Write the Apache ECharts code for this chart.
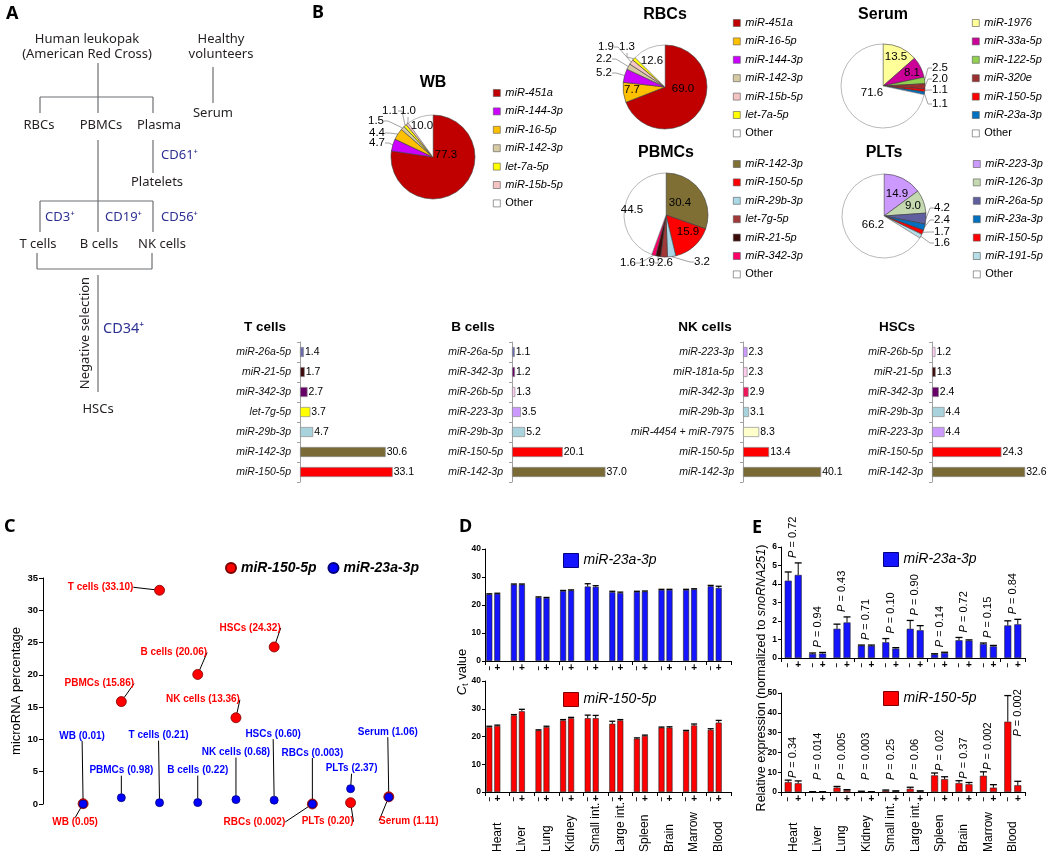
<!DOCTYPE html>
<html>
<head>
<meta charset="utf-8">
<title>miRNA composition figure</title>
<script src="https://cdn.jsdelivr.net/npm/echarts@6/dist/echarts.min.js"></script>
<style>
html,body{margin:0;padding:0;background:#fff;}
#chart{width:1050px;height:856px;}
</style>
</head>
<body>
<div id="chart"></div>
<script>
// ======================= DATA =======================
// Panel B – pie charts (percent of reads)
const wbNames = ['miR-451a','miR-144-3p','miR-16-5p','miR-142-3p','let-7a-5p','miR-15b-5p','Other'];
const wbValues = [77.3, 4.7, 4.4, 1.5, 1.1, 1.0, 10.0];
const rbcNames = ['miR-451a','miR-16-5p','miR-144-3p','miR-142-3p','miR-15b-5p','let-7a-5p','Other'];
const rbcValues = [69.0, 7.7, 5.2, 2.2, 1.9, 1.3, 12.6];
const serumNames = ['miR-1976','miR-33a-5p','miR-122-5p','miR-320e','miR-150-5p','miR-23a-3p','Other'];
const serumValues = [13.5, 8.1, 2.5, 2.0, 1.1, 1.1, 71.6];
const pbmcNames = ['miR-142-3p','miR-150-5p','miR-29b-3p','let-7g-5p','miR-21-5p','miR-342-3p','Other'];
const pbmcValues = [30.4, 15.9, 3.2, 2.6, 1.9, 1.6, 44.5];
const pltNames = ['miR-223-3p','miR-126-3p','miR-26a-5p','miR-23a-3p','miR-150-5p','miR-191-5p','Other'];
const pltValues = [14.9, 9.0, 4.2, 2.4, 1.7, 1.6, 66.2];

// Panel B – horizontal bars
const tCellNames = ['miR-26a-5p','miR-21-5p','miR-342-3p','let-7g-5p','miR-29b-3p','miR-142-3p','miR-150-5p'];
const tCellValues = [1.4, 1.7, 2.7, 3.7, 4.7, 30.6, 33.1];
const bCellNames = ['miR-26a-5p','miR-342-3p','miR-26b-5p','miR-223-3p','miR-29b-3p','miR-150-5p','miR-142-3p'];
const bCellValues = [1.1, 1.2, 1.3, 3.5, 5.2, 20.1, 37.0];
const nkCellNames = ['miR-223-3p','miR-181a-5p','miR-342-3p','miR-29b-3p','miR-4454 + miR-7975','miR-150-5p','miR-142-3p'];
const nkCellValues = [2.3, 2.3, 2.9, 3.1, 8.3, 13.4, 40.1];
const hscNames = ['miR-26b-5p','miR-21-5p','miR-342-3p','miR-29b-3p','miR-223-3p','miR-150-5p','miR-142-3p'];
const hscValues = [1.2, 1.3, 2.4, 4.4, 4.4, 24.3, 32.6];

// Panel C – microRNA percentage
const cellTypes = ['WB','PBMCs','T cells','B cells','NK cells','HSCs','RBCs','PLTs','Serum'];
const pct150 = [0.05, 15.86, 33.10, 20.06, 13.36, 24.32, 0.002, 0.20, 1.11];
const pct23a = [0.01, 0.98, 0.21, 0.22, 0.68, 0.60, 0.003, 2.37, 1.06];

// Panels D and E – tissues
const tissues = ['Heart','Liver','Lung','Kidney','Small int.','Large int.','Spleen','Brain','Marrow','Blood'];
// D: Ct values (− / +), mean and SEM
const ct23aMinus = [23.8, 27.3, 22.7, 25.0, 26.6, 24.6, 24.7, 25.4, 25.4, 26.7];
const ct23aMinusErr = [0.2, 0.2, 0.2, 0.2, 1.0, 0.3, 0.2, 0.2, 0.2, 0.3];
const ct23aPlus = [24.0, 27.3, 22.5, 25.2, 26.5, 24.3, 24.8, 25.4, 25.6, 26.1];
const ct23aPlusErr = [0.2, 0.2, 0.2, 0.2, 0.4, 0.3, 0.2, 0.2, 0.2, 0.6];
const ct150Minus = [23.4, 27.6, 22.2, 25.8, 26.6, 24.6, 19.2, 23.2, 22.0, 22.4];
const ct150MinusErr = [0.3, 0.3, 0.2, 0.3, 1.1, 0.9, 0.3, 0.2, 0.2, 0.4];
const ct150Plus = [23.8, 29.1, 23.4, 26.6, 26.6, 25.8, 20.2, 23.2, 24.0, 25.0];
const ct150PlusErr = [0.3, 0.7, 0.3, 0.3, 1.0, 0.3, 0.3, 0.3, 0.5, 0.8];
// E: relative expression (− / +), mean and SEM, with P values
const rel23aMinus = [4.18, 0.22, 1.58, 0.67, 0.85, 1.58, 0.20, 0.96, 0.76, 1.76];
const rel23aMinusErr = [0.47, 0.05, 0.25, 0.03, 0.20, 0.45, 0.03, 0.15, 0.05, 0.25];
const rel23aPlus = [4.49, 0.24, 1.92, 0.66, 0.51, 1.50, 0.27, 0.94, 0.63, 1.82];
const rel23aPlusErr = [0.65, 0.06, 0.30, 0.04, 0.05, 0.25, 0.04, 0.04, 0.05, 0.27];
const p23a = ['0.72','0.94','0.43','0.71','0.10','0.90','0.14','0.72','0.15','0.84'];
const rel150Minus = [5.0, 0.1, 2.2, 0.3, 0.7, 1.6, 8.4, 4.5, 8.2, 35.5];
const rel150MinusErr = [1.0, 0.05, 0.6, 0.1, 0.3, 0.8, 1.2, 1.2, 2.0, 13.2];
const rel150Plus = [4.4, 0.1, 0.9, 0.1, 0.4, 0.4, 6.5, 3.9, 2.2, 3.4];
const rel150PlusErr = [1.2, 0.05, 0.3, 0.05, 0.2, 0.2, 1.2, 0.9, 1.5, 2.0];
const p150 = ['0.34','0.014','0.005','0.003','0.25','0.06','0.02','0.37','0.002','0.002'];

// ======================= STYLE / LAYOUT =======================
const FONT = "'Liberation Sans', Arial, Helvetica, sans-serif";
const AFONT = "'Noto Sans', 'Open Sans', sans-serif";

const wbColors = ['#C00000','#CC00FF','#FFC000','#D6CAA3','#FFFF00','#F4C4C4','#FFFFFF'];
const rbcColors = ['#C00000','#FFC000','#CC00FF','#D6CAA3','#F4C4C4','#FFFF00','#FFFFFF'];
const serumColors = ['#FFFF99','#CC0099','#92D050','#9C2F2F','#FF0000','#0070C0','#FFFFFF'];
const pbmcColors = ['#7F6F35','#FF0000','#AAD8E6','#A33838','#3D0A0A','#FF0066','#FFFFFF'];
const pltColors = ['#CC99FF','#C4D9B0','#5F5F9F','#0070C0','#FF0000','#B7DEE8','#FFFFFF'];

const tCellColors = ['#6B6BB0','#3D0B0B','#660066','#FFFF00','#A8D3DD','#7A6B36','#FF0000'];
const bCellColors = ['#6B6BB0','#660066','#FFCCF2','#CC99FF','#A8D3DD','#FF0000','#7A6B36'];
const nkCellColors = ['#CC99FF','#FFCCEE','#F0145A','#A8D3DD','#FFFFCC','#FF0000','#7A6B36'];
const hscColors = ['#FFCCF2','#3D0B0B','#660066','#A8D3DD','#CC99FF','#FF0000','#7A6B36'];

// pie label offsets (px from pie centre)
const wbLabelPos = [[13,-2],[-56,-14],[-56,-24],[-57,-36],[-43,-46],[-25,-46],[-11,-31]];
const rbcLabelPos = [[18,2],[-33,3],[-61,-14],[-61,-28],[-59,-40],[-38,-40],[-13,-26]];
const serumLabelPos = [[13,-29],[29,-13],[57,-18],[57,-7],[57,4],[57,18],[-11,7]];
const pbmcLabelPos = [[14,-12],[22,17],[36,47],[-1,48],[-19,48],[-38,48],[-34,-5]];
const pltLabelPos = [[13,-22],[29,-10],[58,-8],[58,4],[58,16],[58,27],[-11,9]];

// panel C label offsets (px from the point)
const lab150Pos = [[-8,19],[-22,-18],[-59,-3],[-24,-22],[-33,-18],[-24,-19],[-58,18],[-23,19],[20,24]];
const lab23aPos = [[-1,-68],[0,-27],[-1,-67],[0,-32],[0,-47],[-1,-66],[0,-51],[1,-20],[-1,-65]];

const grids = [], xAxes = [], yAxes = [], series = [], legends = [], gElems = [];

function gText(t, x, y, o) {
  const s = Object.assign({text: t, fill: '#000', fontSize: 12, fontFamily: FONT, align: 'center', verticalAlign: 'middle'}, o || {});
  s.textAlign = s.align; s.textVerticalAlign = s.verticalAlign;
  const el = {type: 'text', x: x, y: y, silent: true, style: s};
  if (o && o.rot) el.rotation = o.rot;
  return el;
}
function gLine(x1, y1, x2, y2) {
  return {type: 'line', silent: true, shape: {x1: x1, y1: y1, x2: x2, y2: y2}, style: {stroke: '#6d6e71', lineWidth: 1.2}};
}

// ---------- Panel A (flow diagram) ----------
[['Human leukopak',87,39],['(American Red Cross)',87,54],['Healthy',221,39],['volunteers',221,54],['Serum',213,113],
 ['RBCs',39,125],['PBMCs',101,125],['Plasma',159,125],['Platelets',157,182],
 ['T cells',38,244],['B cells',99,244],['NK cells',162,244],['HSCs',98,409]
].forEach(a => gElems.push(gText(a[0], a[1], a[2], {fontSize: 13, fontFamily: AFONT, fill: '#231f20'})));
[['CD61⁺',161,155,13],['CD3⁺',45,217,13],['CD19⁺',105,217,13],['CD56⁺',161,217,13],['CD34⁺',103,329,14.5]]
 .forEach(a => gElems.push(gText(a[0], a[1], a[2], {fontSize: a[3], fontFamily: AFONT, fill: '#2E3192', align: 'left'})));
gElems.push(gText('Negative selection', 85, 333, {fontSize: 13, fontFamily: AFONT, fill: '#231f20', rot: Math.PI / 2}));
[[98,63,98,113],[40,97,153,97],[40,97,40,113],[153,97,153,113],[213,67,213,103],[153,140,153,173],
 [98,140,98,232],[40,201,153,201],[40,201,40,232],[153,201,153,232],[37,253,37,269],[37,269,152,269],
 [152,253,152,269],[98,275,98,392]].forEach(l => gElems.push(gLine(l[0], l[1], l[2], l[3])));

// panel letters
[['A',6,14],['B',312,13],['C',4,527],['D',459,527],['E',752,528]]
 .forEach(a => gElems.push(gText(a[0], a[1], a[2], {fontSize: 18, fontWeight: 'bold', fontFamily: AFONT, align: 'left'})));

// ---------- Panel B pies ----------
function addPie(title, names, values, colors, labelPos, cx, cy, titleY, legLeft, legTop) {
  series.push({
    type: 'pie', name: title, center: [cx, cy], radius: 42, startAngle: 90, clockwise: true,
    avoidLabelOverlap: false, minShowLabelAngle: 0, silent: true,
    itemStyle: {borderColor: '#3a3a3a', borderWidth: 0.6},
    label: {show: true, fontSize: 11.5, color: '#000', fontFamily: FONT, formatter: p => p.value.toFixed(1)},
    labelLine: {show: true, length: 4, length2: 4, lineStyle: {color: '#8a8a8a', width: 0.8}},
    labelLayout: p => {
      const o = labelPos[p.dataIndex];
      return {x: cx + o[0], y: cy + o[1], align: 'center', verticalAlign: 'middle'};
    },
    data: names.map((n, i) => ({
      name: n, value: values[i],
      itemStyle: {color: colors[i], borderColor: n === 'Other' ? '#8a8a8a' : '#3a3a3a'},
      label: {position: values[i] >= 7 ? 'inside' : 'outside'},
      labelLine: {show: values[i] < 7}
    }))
  });
  gElems.push(gText(title, cx, titleY, {fontSize: 16, fontWeight: 'bold'}));
  legends.push({
    orient: 'vertical', left: legLeft, top: legTop, padding: 0, itemWidth: 7, itemHeight: 7, itemGap: 4.4,
    icon: 'rect', selectedMode: false,
    textStyle: {fontSize: 11, lineHeight: 14, color: '#000', fontFamily: FONT},
    data: names.map((n, i) => ({
      name: n,
      itemStyle: {color: colors[i], borderColor: '#555', borderWidth: 0.6},
      textStyle: {fontStyle: n === 'Other' ? 'normal' : 'italic', fontSize: 11, color: '#000'}
    }))
  });
}
addPie('WB', wbNames, wbValues, wbColors, wbLabelPos, 433, 157, 83, 493, 86);
addPie('RBCs', rbcNames, rbcValues, rbcColors, rbcLabelPos, 665, 87, 15, 733, 16);
addPie('Serum', serumNames, serumValues, serumColors, serumLabelPos, 883, 86, 15, 972, 16);
addPie('PBMCs', pbmcNames, pbmcValues, pbmcColors, pbmcLabelPos, 666, 215, 153, 733, 157);
addPie('PLTs', pltNames, pltValues, pltColors, pltLabelPos, 884, 216, 153, 973, 157);

// ---------- Panel B horizontal bars ----------
[
  {title: 'T cells', names: tCellNames, values: tCellValues, colors: tCellColors, left: 300, width: 98, max: 35, tx: 265},
  {title: 'B cells', names: bCellNames, values: bCellValues, colors: bCellColors, left: 512, width: 101, max: 40, tx: 473},
  {title: 'NK cells', names: nkCellNames, values: nkCellValues, colors: nkCellColors, left: 743, width: 97.5, max: 50, tx: 705},
  {title: 'HSCs', names: hscNames, values: hscValues, colors: hscColors, left: 932, width: 100, max: 35, tx: 897}
].forEach(p => {
  const gi = grids.length;
  grids.push({left: p.left, top: 342, width: p.width, height: 140, outerBoundsMode: 'none'});
  xAxes.push({gridIndex: gi, type: 'value', min: 0, max: p.max, show: false});
  yAxes.push({gridIndex: gi, type: 'category', inverse: true, data: p.names,
    axisLine: {show: true, onZero: false, lineStyle: {color: '#a0a0a0', width: 1}},
    axisTick: {show: true, length: 3, lineStyle: {color: '#a0a0a0'}},
    axisLabel: {fontStyle: 'italic', fontSize: 10.5, color: '#111', margin: 9, fontFamily: FONT, interval: 0},
    splitLine: {show: false}});
  series.push({type: 'bar', name: p.title, xAxisIndex: gi, yAxisIndex: gi, barWidth: 10, silent: true,
    itemStyle: {borderColor: '#8c8c8c', borderWidth: 0.7},
    label: {show: true, position: 'right', distance: 1, fontSize: 10.5, color: '#000', fontFamily: FONT, formatter: q => q.value.toFixed(1)},
    data: p.values.map((v, i) => ({value: v, itemStyle: {color: p.colors[i]}}))});
  gElems.push(gText(p.title, p.tx, 327, {fontSize: 13.5, fontWeight: 'bold'}));
});

// ---------- Panel C ----------
(function () {
  const gi = grids.length;
  grids.push({left: 43, top: 578, width: 384, height: 226, outerBoundsMode: 'none'});
  xAxes.push({gridIndex: gi, type: 'value', min: -1.05, max: 9, show: false});
  yAxes.push({gridIndex: gi, type: 'value', min: 0, max: 35, interval: 5,
    axisLine: {show: true, onZero: false, lineStyle: {color: '#000'}},
    axisTick: {show: true, length: 4, lineStyle: {color: '#000'}},
    axisLabel: {fontWeight: 'bold', fontSize: 9.5, color: '#000', margin: 5, fontFamily: FONT},
    splitLine: {show: false},
    name: 'microRNA percentage', nameLocation: 'middle', nameGap: 20,
    nameTextStyle: {fontSize: 13, color: '#000', fontFamily: FONT}});
  const fmt = v => (v < 0.01 ? v.toFixed(3) : v.toFixed(2));
  function sc(name, vals, color, border, size, offs) {
    return {type: 'scatter', name: name, xAxisIndex: gi, yAxisIndex: gi, symbolSize: size, silent: true,
      itemStyle: {color: color, borderColor: border, borderWidth: 0.8, opacity: 1},
      data: vals.map((v, i) => [i, v]),
      label: {show: true, position: 'inside', fontSize: 10, fontWeight: 'bold', color: color, fontFamily: FONT,
        formatter: p => cellTypes[p.dataIndex] + ' (' + fmt(p.value[1]) + ')'},
      labelLine: {show: true, lineStyle: {color: '#000', width: 1}},
      labelLayout: p => ({dx: offs[p.dataIndex][0], dy: offs[p.dataIndex][1]})};
  }
  series.push(sc('miR-150-5p', pct150, '#FF0000', '#7a0000', 10, lab150Pos));
  series.push(sc('miR-23a-3p', pct23a, '#0000FF', '#00007a', 8, lab23aPos));
  legends.push({left: 225, top: 561, padding: 0, itemWidth: 10, itemHeight: 10, itemGap: 11, icon: 'circle', selectedMode: false,
    textStyle: {fontSize: 14, fontWeight: 'bold', fontStyle: 'italic', color: '#000', fontFamily: FONT},
    data: [{name: 'miR-150-5p', itemStyle: {color: '#FF0000'}}, {name: 'miR-23a-3p', itemStyle: {color: '#0000FF'}}]});
})();

// ---------- Panels D and E ----------
function errSeries(gi, means, errs, offPx, capHalf) {
  return {type: 'custom', xAxisIndex: gi, yAxisIndex: gi, silent: true, z: 3,
    data: means.map((m, k) => [k, m, errs[k]]),
    renderItem: (params, api) => {
      const k = api.value(0), m = api.value(1), e = api.value(2);
      const b = api.coord([k, m]), t = api.coord([k, m + e]);
      const x = b[0] + offPx;
      return {type: 'group', children: [
        {type: 'line', shape: {x1: x, y1: b[1], x2: x, y2: t[1]}, style: {stroke: '#000', lineWidth: 1}},
        {type: 'line', shape: {x1: x - capHalf, y1: t[1], x2: x + capHalf, y2: t[1]}, style: {stroke: '#000', lineWidth: 1.3}}
      ]};
    }};
}
function addErrPanel(c) {
  const gi = grids.length;
  grids.push({left: c.left, top: c.top, width: c.width, height: c.height, outerBoundsMode: 'none'});
  xAxes.push({gridIndex: gi, type: 'category', data: tissues,
    axisLine: {show: true, lineStyle: {color: '#000'}},
    axisTick: {show: true, length: 4, lineStyle: {color: '#000'}},
    axisLabel: c.showNames ? {show: true, interval: 0, rotate: 90, align: 'left', verticalAlign: 'middle', margin: 60,
      fontSize: 12, color: '#000', fontFamily: FONT} : {show: false}});
  yAxes.push({gridIndex: gi, type: 'value', min: 0, max: c.max, interval: c.interval,
    axisLine: {show: true, onZero: false, lineStyle: {color: '#000'}},
    axisTick: {show: true, length: 3, lineStyle: {color: '#000'}},
    axisLabel: {fontWeight: 'bold', fontSize: 8.5, color: '#000', margin: 4, fontFamily: FONT},
    splitLine: {show: false}});
  const base = {type: 'bar', name: c.name, xAxisIndex: gi, yAxisIndex: gi, barWidth: c.barWidth,
    barGap: (c.gap / c.barWidth * 100) + '%', silent: true,
    itemStyle: {color: c.color, borderColor: '#222', borderWidth: 0.6}};
  series.push(Object.assign({}, base, {data: c.minus,
    label: {show: true, position: 'bottom', distance: 7, formatter: '−', rotate: 90, align: 'center', verticalAlign: 'middle', fontSize: 8, fontWeight: 'bold', color: '#000'}}));
  series.push(Object.assign({}, base, {data: c.plus,
    label: {show: true, position: 'bottom', distance: 7, formatter: '+', align: 'center', verticalAlign: 'middle', fontSize: 10, fontWeight: 'bold', color: '#000', fontFamily: FONT}}));
  const nBars = c.spacer ? 3 : 2;
  if (c.spacer) series.push(Object.assign({}, base, {name: 'spacer', data: []}));
  const step = c.barWidth + c.gap;
  const firstOff = -(nBars - 1) / 2 * step;
  series.push(errSeries(gi, c.minus, c.minusErr, firstOff, c.barWidth / 2));
  series.push(errSeries(gi, c.plus, c.plusErr, firstOff + step, c.barWidth / 2));
  if (c.pvals) {
    series.push({type: 'custom', xAxisIndex: gi, yAxisIndex: gi, silent: true, z: 4,
      data: c.pvals.map((p, k) => [k, Math.max(c.minus[k] + c.minusErr[k], c.plus[k] + c.plusErr[k], c.pFloor)]),
      renderItem: (params, api) => {
        const k = params.dataIndex;
        const ov = c.pOverride && c.pOverride[k];
        const top = ov ? ov.value : api.value(1);
        const pt = api.coord([api.value(0), top]);
        const x = pt[0] + (ov ? firstOff + step : firstOff + step / 2);
        return {type: 'text', x: x, y: pt[1] - c.pPad, rotation: Math.PI / 2,
          style: {text: '{i|P} = ' + c.pvals[k],
            rich: {i: {fontStyle: 'italic', fontSize: 11, fontFamily: FONT, fill: '#000'}},
            fontSize: 11, fontFamily: FONT, fill: '#000',
            align: 'left', verticalAlign: 'middle', textAlign: 'left', textVerticalAlign: 'middle'}};
      }});
  }
  legends.push({left: c.legLeft, top: c.legTop, padding: 0, itemWidth: 15, itemHeight: 14, itemGap: 5, icon: 'rect', selectedMode: false,
    textStyle: {fontSize: 14, fontStyle: 'italic', color: '#000', fontFamily: FONT},
    data: [{name: c.name, itemStyle: {color: c.color, borderColor: c.dark, borderWidth: 1}}]});
}
addErrPanel({name: 'miR-23a-3p', color: '#1414FF', dark: '#000080', left: 485, top: 549, width: 246, height: 112, max: 40, interval: 10,
  minus: ct23aMinus, minusErr: ct23aMinusErr, plus: ct23aPlus, plusErr: ct23aPlusErr, barWidth: 6, gap: 2, spacer: true,
  showNames: false, legLeft: 563, legTop: 553});
addErrPanel({name: 'miR-150-5p', color: '#FF0000', dark: '#800000', left: 485, top: 681, width: 246, height: 111, max: 40, interval: 10,
  minus: ct150Minus, minusErr: ct150MinusErr, plus: ct150Plus, plusErr: ct150PlusErr, barWidth: 6, gap: 2, spacer: true,
  showNames: true, legLeft: 563, legTop: 692});
addErrPanel({name: 'miR-23a-3p', color: '#1414FF', dark: '#000080', left: 781, top: 547, width: 244, height: 111, max: 6, interval: 1,
  minus: rel23aMinus, minusErr: rel23aMinusErr, plus: rel23aPlus, plusErr: rel23aPlusErr, barWidth: 7, gap: 3, spacer: false,
  pvals: p23a, pFloor: 0, pPad: 5, showNames: false, legLeft: 883, legTop: 552});
addErrPanel({name: 'miR-150-5p', color: '#FF0000', dark: '#800000', left: 781, top: 693, width: 244, height: 99, max: 50, interval: 10,
  minus: rel150Minus, minusErr: rel150MinusErr, plus: rel150Plus, plusErr: rel150PlusErr, barWidth: 7, gap: 3, spacer: false,
  pvals: p150, pFloor: 5, pPad: 2, pOverride: {9: {value: 27}}, showNames: true, legLeft: 883, legTop: 691});

// axis titles for D and E
gElems.push({type: 'text', x: 462, y: 672, rotation: Math.PI / 2, silent: true,
  style: {text: '{c|C}{s|t}{n| value}', align: 'center', verticalAlign: 'middle', textAlign: 'center', textVerticalAlign: 'middle',
    rich: {c: {fontSize: 13, fontStyle: 'italic', fontFamily: FONT, fill: '#000', lineHeight: 16},
      s: {fontSize: 9, fontFamily: FONT, fill: '#000', verticalAlign: 'bottom'},
      n: {fontSize: 13, fontFamily: FONT, fill: '#000', lineHeight: 16}}}});
gElems.push({type: 'text', x: 762, y: 678, rotation: Math.PI / 2, silent: true,
  style: {text: '{a|Relative expression (normalized to }{b|snoRNA251}{a|)}', align: 'center', verticalAlign: 'middle',
    textAlign: 'center', textVerticalAlign: 'middle',
    rich: {a: {fontSize: 12.5, fontFamily: FONT, fill: '#000'}, b: {fontSize: 12.5, fontStyle: 'italic', fontFamily: FONT, fill: '#000'}}}});

// ======================= RENDER =======================
const chart = echarts.init(document.getElementById('chart'), null, {renderer: 'canvas', width: 1050, height: 856});
chart.setOption({
  animation: false,
  backgroundColor: '#fff',
  textStyle: {fontFamily: FONT},
  grid: grids,
  xAxis: xAxes,
  yAxis: yAxes,
  legend: legends,
  series: series,
  graphic: {elements: gElems}
});
</script>
</body>
</html>
